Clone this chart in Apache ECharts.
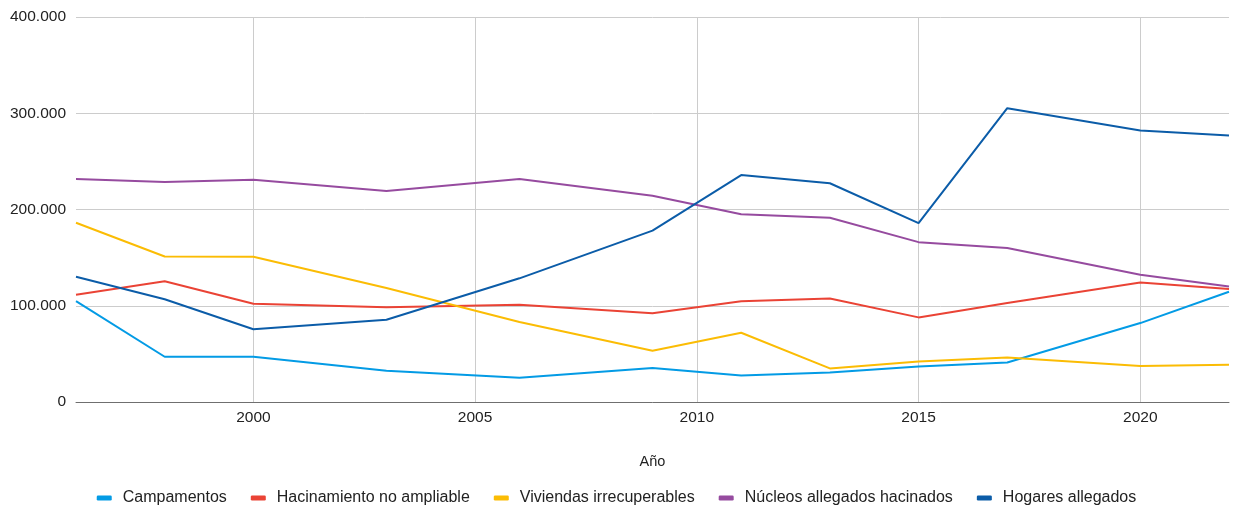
<!DOCTYPE html>
<html>
<head>
<meta charset="utf-8">
<script src="https://cdn.jsdelivr.net/npm/echarts@6/dist/echarts.min.js"></script>
<style>
html,body{margin:0;padding:0;background:#fff;}
#c{width:1233px;height:508px;}
</style>
</head>
<body>
<div id="c"></div>
<script>
const years = [1996, 1998, 2000, 2003, 2006, 2009, 2011, 2013, 2015, 2017, 2020, 2022];
const campamentos = [104900, 47000, 47000, 32500, 25300, 35300, 27600, 30700, 37000, 41100, 82000, 114500];
const hacinamiento = [111500, 125400, 102100, 98400, 101100, 92100, 104600, 107600, 87900, 102800, 124200, 117300];
const viviendas = [186200, 151200, 150900, 118400, 83100, 53300, 72000, 34900, 42200, 46300, 37400, 38700];
const nucleos = [231600, 228500, 230800, 219200, 231700, 214300, 195000, 191400, 166100, 160000, 132200, 120000];
const hogares = [130100, 106700, 75600, 85500, 128500, 178000, 235800, 227300, 185900, 305300, 282100, 276900];
const seriesNames = ['Campamentos', 'Hacinamiento no ampliable', 'Viviendas irrecuperables', 'Núcleos allegados hacinados', 'Hogares allegados'];
const seriesColors = ['#039be5', '#ea4335', '#fbbc04', '#964b9f', '#0b5ca8'];
const seriesValues = [campamentos, hacinamiento, viviendas, nucleos, hogares];

const font = 'Liberation Sans, Arial, sans-serif';
const chart = echarts.init(document.getElementById('c'));
chart.setOption({
  animation: false,
  textStyle: { fontFamily: font },
  grid: { left: 76, right: 4, top: 17, bottom: 106, containLabel: false },
  xAxis: {
    type: 'value', min: 1996, max: 2022,
    name: 'Año', nameLocation: 'middle', nameGap: 52,
    nameTextStyle: { color: '#222', fontSize: 14.5, fontFamily: font },
    axisLine: { show: true, lineStyle: { color: '#6f6f6f', width: 1 } },
    axisTick: { show: false },
    axisLabel: { color: '#222', fontSize: 15.5, margin: 8, showMinLabel: false, showMaxLabel: false, formatter: v => String(v) },
    splitLine: { show: true, showMinLine: false, showMaxLine: false, lineStyle: { color: '#cccccc', width: 1 } }
  },
  yAxis: {
    type: 'value', min: 0, max: 400000, interval: 100000,
    axisLine: { show: false }, axisTick: { show: false },
    axisLabel: { color: '#222', fontSize: 15.5, margin: 10, formatter: v => v.toLocaleString('de-DE') },
    splitLine: { lineStyle: { color: '#cccccc', width: 1 } }
  },
  legend: {
    top: 485, left: 'center', icon: 'roundRect', itemWidth: 15, itemHeight: 5, itemGap: 24,
    textStyle: { color: '#222', fontSize: 16, fontFamily: font, padding: [0, 0, 0, 6] },
    data: seriesNames
  },
  color: seriesColors,
  series: seriesNames.map((n, i) => ({
    name: n, type: 'line', symbol: 'none',
    lineStyle: { width: 2, color: seriesColors[i] },
    itemStyle: { color: seriesColors[i] },
    data: years.map((y, j) => [y, seriesValues[i][j]])
  }))
});
</script>
</body>
</html>
